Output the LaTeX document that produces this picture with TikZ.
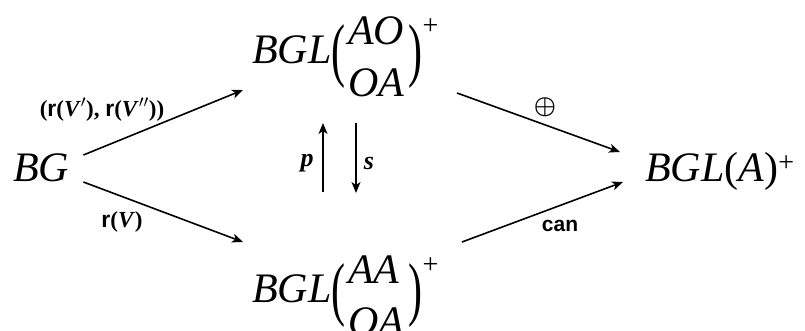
\documentclass[tikz,border=0pt]{standalone}
\usepackage{amsmath}
\usepackage{graphicx}
\usepackage{fontspec}
\setmainfont{Liberation Serif}
\setsansfont{Liberation Sans}
\usetikzlibrary{arrows.meta,calc}
\newcommand{\supplus}{^{\mbox{\fontsize{28}{28}\selectfont +}}}
\newcommand{\bigpar}[1]{\vcenter{\hbox{\scalebox{1}[1.68]{#1}}}}
\newcommand{\mtx}[2]{\bigpar{(}\mkern2mu\vcenter{\hbox{\textit{#1}}\kern12pt\hbox{\textit{#2}}}\mkern3mu\bigpar{)}}
\begin{document}
\begin{tikzpicture}[x=1pt,y=-1pt,
  obj/.style={inner sep=0pt, anchor=base west, font=\fontsize{42}{40}\selectfont},
  lbl/.style={inner sep=0pt, font=\fontsize{23}{26}\selectfont\bfseries},
  arr/.style={line width=1.6pt, -{Stealth[length=11pt,width=9pt,inset=3pt]}}]
\useasboundingbox (0,0) rectangle (805,330);
% objects
\node[obj] (bg) at (13,181) {\textit{BG}};
\node[obj] (top) at (252,63) {$\textit{BGL}\mtx{AO}{OA}\supplus$};
\node[obj] (bot) at (252,302) {$\textit{BGL}\mtx{AA}{OA}\supplus$};
\node[obj] (rt) at (645,181) {\textit{BGL}(\textit{A})$\supplus$};
% arrows
\draw[arr] ($(bg.base east)+(14,-26)$) -- ($(top.base west)+(-9,27)$);
\draw[arr] ($(bg.base east)+(14,1)$) -- ($(bot.base west)+(-9,-60)$);
\draw[arr] ($(top.base west)+(205,30)$) -- ($(rt.base west)+(-25,-29)$);
\draw[arr] ($(bot.base west)+(210,-60)$) -- ($(rt.base west)+(-22,1)$);
\draw[arr] ($(bot.base west)+(71,-110)$) -- ($(top.base west)+(71,60)$);
\draw[arr] ($(top.base west)+(104,60)$) -- ($(bot.base west)+(104,-109)$);
% labels
\node[lbl] (l1) at (102,110) {(\textsf{r}(\textit{V}$'$), \textsf{r}(\textit{V}$''$))};
\node[lbl] (l2) at (122,222) {\textsf{r}(\textit{V})};
\node[lbl] (l3) at (545,107) {$\boldsymbol{\oplus}$};
\node[lbl, font=\fontsize{21}{24}\selectfont\bfseries] (l4) at (560,226) {\textsf{can}};
\node[lbl, font=\fontsize{26}{28}\selectfont\bfseries] (lp) at (307,163) {\textit{p}};
\node[lbl, font=\fontsize{26}{28}\selectfont\bfseries] (ls) at (369,163) {\textit{s}};
\end{tikzpicture}
\end{document}
